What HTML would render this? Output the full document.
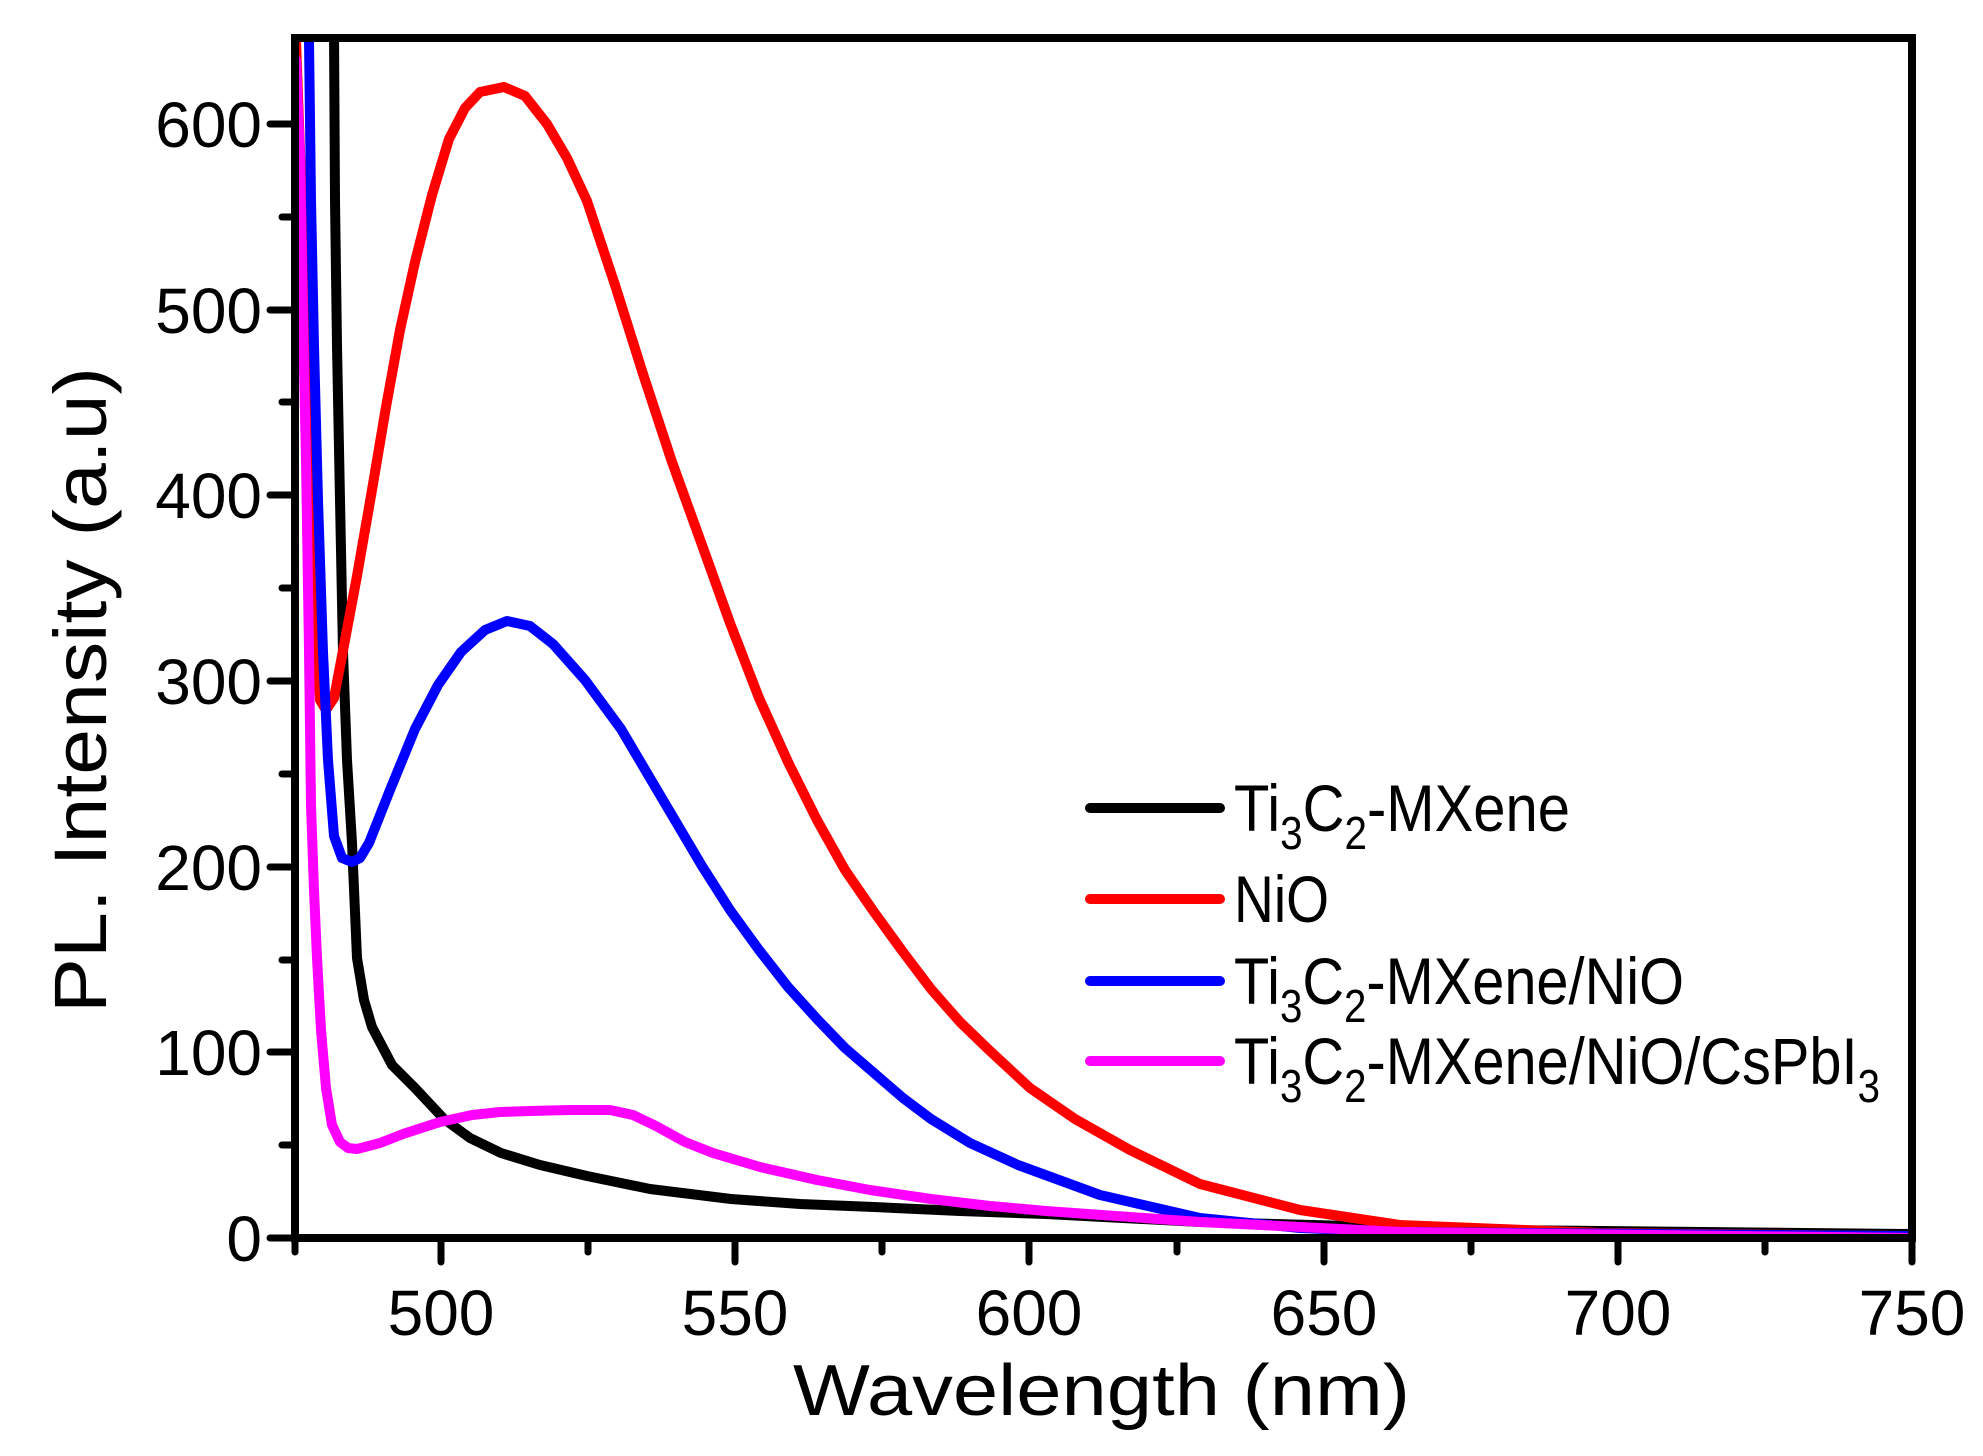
<!DOCTYPE html>
<html><head><meta charset="utf-8"><style>
html,body{margin:0;padding:0;background:#fff;}
svg{display:block;}
text{font-family:"Liberation Sans",Arial,sans-serif;fill:#000;}
</style></head><body>
<svg width="1983" height="1456" viewBox="0 0 1983 1456" xmlns="http://www.w3.org/2000/svg">
<defs><clipPath id="c"><rect x="295" y="38" width="1617" height="1200"/></clipPath></defs>
<g clip-path="url(#c)" fill="none" stroke-width="10" stroke-linejoin="round" stroke-linecap="round">
<polyline stroke="#000" points="334,30 335,200 337,346 340,500 343,652 347,760 352,843 357,958 364,1000 372,1027 392,1065 415,1088 444,1119 470,1138 501,1153 540,1165 587,1176 650,1189 731,1199 800,1204 874,1207 960,1211 1046,1214 1200,1222 1500,1230 1912,1234"/>
<polyline stroke="#ff0000" points="296,40 300,150 306,285 312,500 317,640 320,700 326,710 334,698 345,640 357,576 372,490 386,407 400,330 415,262 432,195 449,139 465,108 480,92 504,87 525,96 547,124 567,158 587,201 615,285 644,377 672,462 702,545 730,623 759,698 788,762 817,820 845,870 874,912 903,952 931,989 960,1022 989,1050 1030,1088 1075,1119 1130,1150 1200,1184 1300,1210 1400,1225 1600,1233 1912,1236"/>
<polyline stroke="#0000ff" points="309,40 311,200 314,346 318,500 323,652 328,760 334,836 342,858 352,862 360,858 369,843 390,790 415,729 438,685 461,652 485,630 507,621 530,626 553,644 585,680 621,729 660,795 702,866 730,910 759,950 788,987 817,1019 845,1048 874,1073 903,1098 931,1119 970,1143 1018,1165 1100,1195 1200,1218 1300,1228 1400,1232 1912,1236"/>
<polyline stroke="#ff00ff" points="296,60 298,110 300,155 303,320 306,461 309,650 311,805 314,890 317,958 321,1030 326,1088 332,1125 340,1142 348,1148 357,1149 380,1143 403,1134 440,1122 472,1115 500,1112 530,1111 570,1110 610,1110 633,1115 656,1126 685,1142 713,1153 760,1167 817,1180 870,1190 931,1199 990,1206 1046,1211 1200,1222 1400,1232 1912,1238"/>
</g>
<rect x="295" y="38" width="1617" height="1200" fill="none" stroke="#000" stroke-width="8"/>
<g stroke="#000" stroke-width="7" stroke-linecap="round">
<line x1="270" y1="1238" x2="295" y2="1238"/><line x1="270" y1="1052" x2="295" y2="1052"/><line x1="270" y1="867" x2="295" y2="867"/><line x1="270" y1="681" x2="295" y2="681"/><line x1="270" y1="495" x2="295" y2="495"/><line x1="270" y1="310" x2="295" y2="310"/><line x1="270" y1="124" x2="295" y2="124"/>
<line x1="282" y1="1145" x2="295" y2="1145"/><line x1="282" y1="960" x2="295" y2="960"/><line x1="282" y1="774" x2="295" y2="774"/><line x1="282" y1="588" x2="295" y2="588"/><line x1="282" y1="402" x2="295" y2="402"/><line x1="282" y1="217" x2="295" y2="217"/>
<line x1="441" y1="1238" x2="441" y2="1262"/><line x1="735" y1="1238" x2="735" y2="1262"/><line x1="1029" y1="1238" x2="1029" y2="1262"/><line x1="1324" y1="1238" x2="1324" y2="1262"/><line x1="1618" y1="1238" x2="1618" y2="1262"/><line x1="1912" y1="1238" x2="1912" y2="1262"/>
<line x1="295" y1="1238" x2="295" y2="1252"/><line x1="588" y1="1238" x2="588" y2="1252"/><line x1="882" y1="1238" x2="882" y2="1252"/><line x1="1177" y1="1238" x2="1177" y2="1252"/><line x1="1471" y1="1238" x2="1471" y2="1252"/><line x1="1765" y1="1238" x2="1765" y2="1252"/>
</g>
<g font-size="64" text-anchor="end">
<text x="262" y="1261">0</text><text x="262" y="1075">100</text><text x="262" y="890">200</text><text x="262" y="704">300</text><text x="262" y="518">400</text><text x="262" y="333">500</text><text x="262" y="147">600</text>
</g>
<g font-size="64" text-anchor="middle">
<text x="441" y="1335">500</text><text x="735" y="1335">550</text><text x="1029" y="1335">600</text><text x="1324" y="1335">650</text><text x="1618" y="1335">700</text><text x="1912" y="1335">750</text>
</g>
<text x="793" y="1415" font-size="72" textLength="617" lengthAdjust="spacingAndGlyphs">Wavelength (nm)</text>
<text transform="translate(106,1013) rotate(-90)" font-size="74" textLength="646" lengthAdjust="spacingAndGlyphs">PL. Intensity (a.u)</text>
<g stroke-width="10" stroke-linecap="round">
<line x1="1090" y1="808" x2="1220" y2="808" stroke="#000"/>
<line x1="1090" y1="899" x2="1220" y2="899" stroke="#ff0000"/>
<line x1="1090" y1="981" x2="1220" y2="981" stroke="#0000ff"/>
<line x1="1090" y1="1061" x2="1220" y2="1061" stroke="#ff00ff"/>
</g>
<g font-size="66">
<text x="1234" y="831" textLength="336" lengthAdjust="spacingAndGlyphs">Ti<tspan font-size="46" dy="18">3</tspan><tspan dy="-18">C</tspan><tspan font-size="46" dy="18">2</tspan><tspan dy="-18">-MXene</tspan></text>
<text x="1234" y="922" textLength="95" lengthAdjust="spacingAndGlyphs">NiO</text>
<text x="1234" y="1004" textLength="450" lengthAdjust="spacingAndGlyphs">Ti<tspan font-size="46" dy="18">3</tspan><tspan dy="-18">C</tspan><tspan font-size="46" dy="18">2</tspan><tspan dy="-18">-MXene/NiO</tspan></text>
<text x="1234" y="1084" textLength="646" lengthAdjust="spacingAndGlyphs">Ti<tspan font-size="46" dy="18">3</tspan><tspan dy="-18">C</tspan><tspan font-size="46" dy="18">2</tspan><tspan dy="-18">-MXene/NiO/CsPbI</tspan><tspan font-size="46" dy="18">3</tspan></text>
</g>
</svg>
</body></html>
